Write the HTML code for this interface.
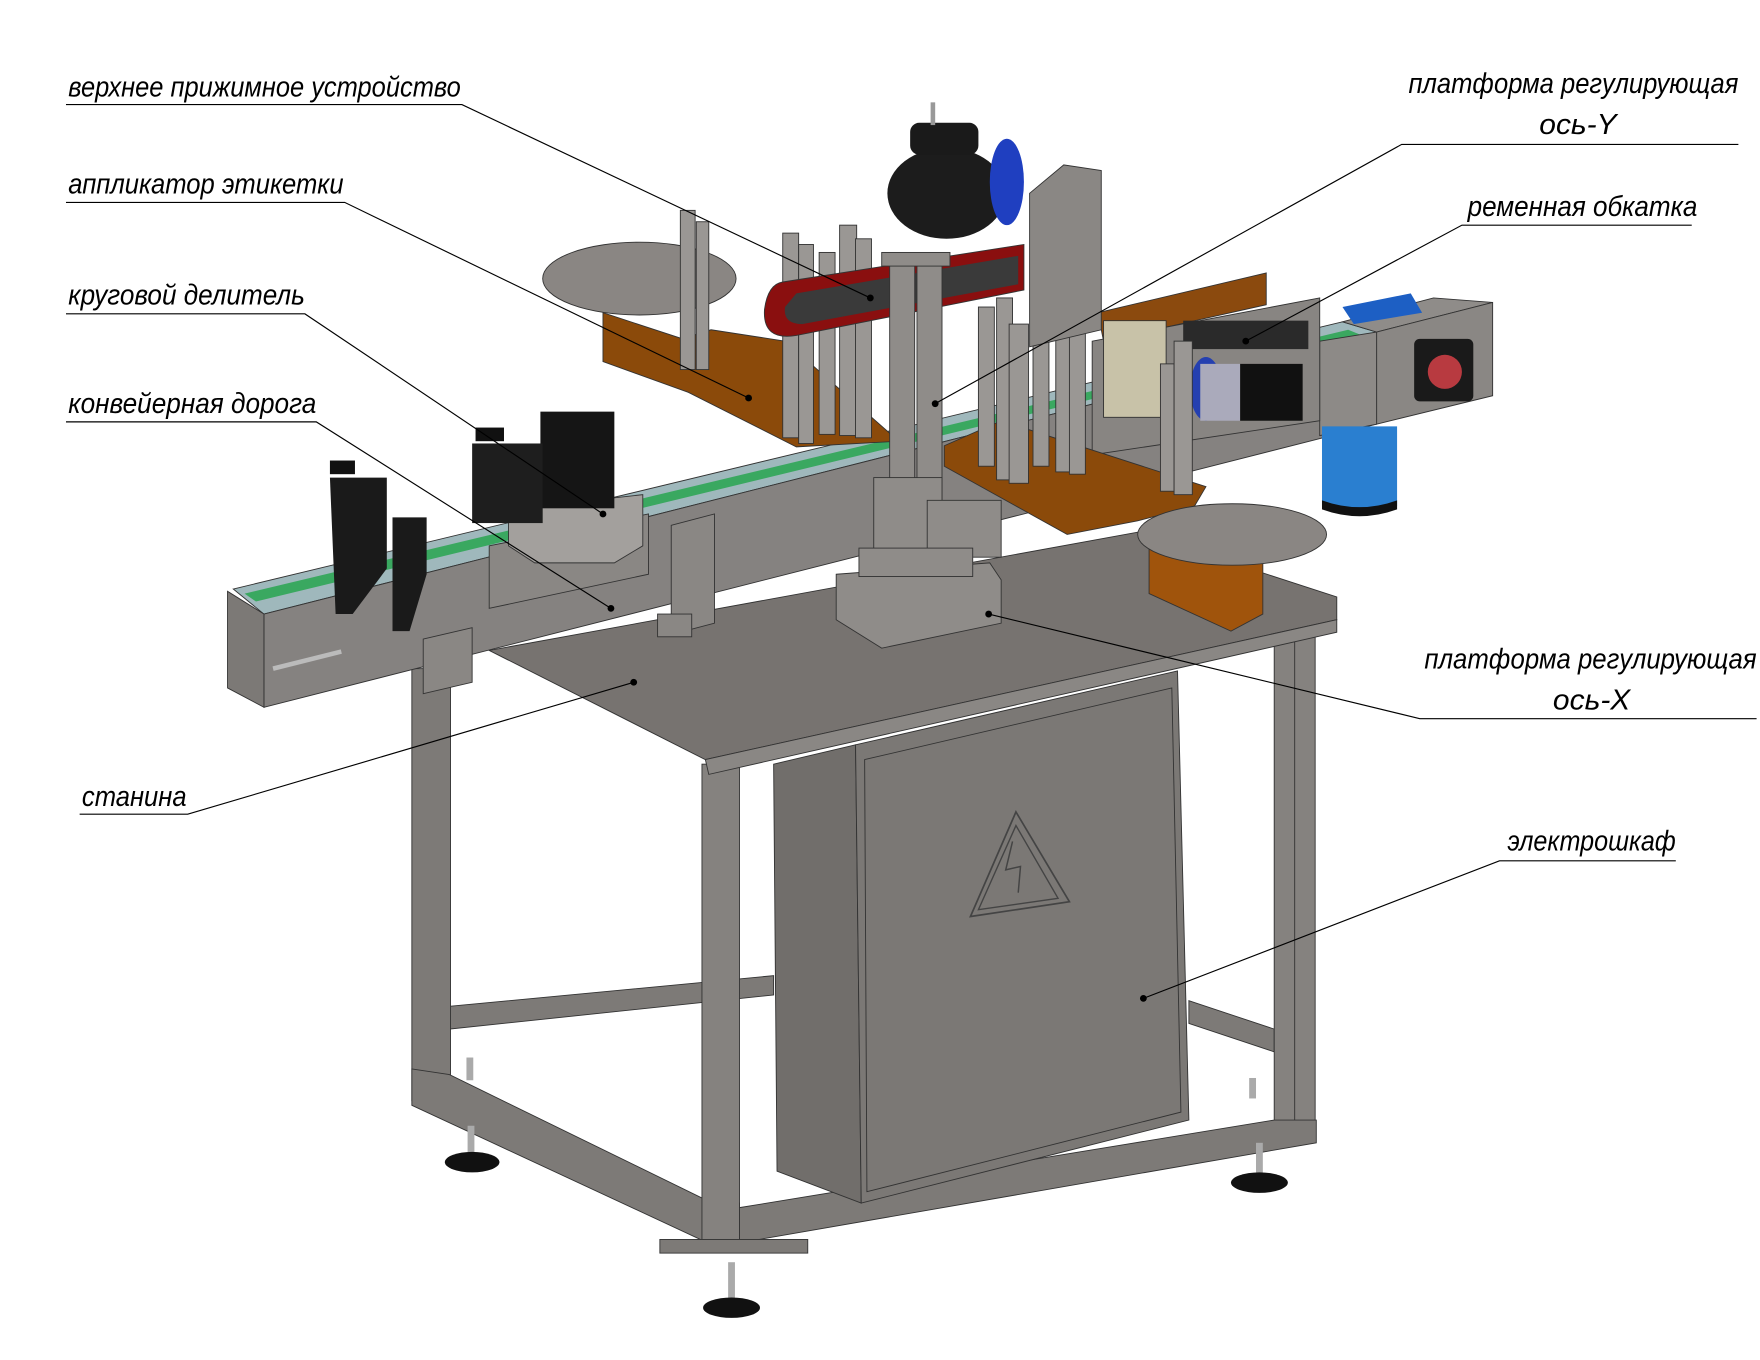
<!DOCTYPE html>
<html><head><meta charset="utf-8"><style>
html,body{margin:0;padding:0;background:#fff;width:1760px;height:1360px;overflow:hidden}
svg{display:block}
.t{font-family:"Liberation Sans","DejaVu Sans",sans-serif;font-style:italic;font-size:25px;fill:#000}
.s{stroke:#333;stroke-width:.8}
</style></head><body>
<svg width="1760" height="1360" viewBox="0 0 1547 1196" preserveAspectRatio="none" xmlns="http://www.w3.org/2000/svg">
<rect width="1547" height="1196" fill="#fff"/>
<!-- lower frame -->
<g class="s" fill="#7d7a77">
<polygon points="395,885 680,858 680,875 395,905"/>
<polygon points="1045,880 1120,905 1120,925 1045,900"/>
<rect x="362" y="588" width="34" height="380"/>
<polygon points="362,940 395,945 620,1055 650,1058 650,1092 620,1092 362,972"/>
<rect x="617" y="672" width="33" height="420" fill="#85827f"/>
<rect x="1120" y="552" width="36" height="450" fill="#85827f"/>
<line x1="1138" y1="552" x2="1138" y2="1000"/>
<polygon points="650,1062 1120,985 1157,985 1157,1005 650,1093"/>
<rect x="580" y="1090" width="130" height="12"/>
</g>
<!-- feet -->
<g fill="#111">
<rect x="411" y="990" width="6" height="25" fill="#aaa"/><ellipse cx="415" cy="1022" rx="24" ry="9"/>
<rect x="640" y="1110" width="6" height="32" fill="#aaa"/><ellipse cx="643" cy="1150" rx="25" ry="9"/>
<rect x="1104" y="1005" width="6" height="28" fill="#aaa"/><ellipse cx="1107" cy="1040" rx="25" ry="9"/>
<rect x="410" y="930" width="6" height="20" fill="#aaa"/><rect x="1098" y="948" width="6" height="18" fill="#aaa"/>
</g>
<!-- cabinet -->
<polygon class="s" points="680,672 752,655 757,1058 683,1030" fill="#716e6b"/>
<polygon class="s" points="752,655 1035,590 1045,985 757,1058" fill="#7b7875"/>
<polygon class="s" fill="none" points="760,668 1030,605 1038,978 762,1048"/>
<polygon fill="none" stroke="#444" stroke-width="1.5" points="853,806 893,714 940,793"/>
<polygon fill="none" stroke="#444" stroke-width="1.2" points="860,800 893,726 930,790"/>
<polyline fill="none" stroke="#444" stroke-width="1.3" points="890,740 884,765 897,762 895,785"/>
<!-- table top -->
<polygon class="s" points="430,572 1000,468 1175,525 1175,545 620,668" fill="#777370"/>
<polygon class="s" points="620,668 1175,545 1175,556 623,681" fill="#8a8784"/>
<!-- conveyor beam -->
<polygon class="s" points="205,518 1180,283 1210,292 232,540" fill="#9fb8bc"/>
<polygon points="215,522 1185,290 1195,294 225,529" fill="#3aa860"/>
<polygon class="s" points="232,540 1210,292 1210,373 232,622" fill="#858280"/>
<polygon class="s" points="200,520 232,540 232,622 200,605" fill="#7c7976"/>
<polygon class="s" points="372,562 415,552 415,600 372,610" fill="#8a8784"/>
<polygon class="s" points="590,462 628,452 628,548 590,558" fill="#8a8784"/>
<polygon class="s" points="430,480 570,452 570,505 430,535" fill="#8a8784"/>
<rect x="578" y="540" width="30" height="20" fill="#8a8784" class="s"/>
<line x1="240" y1="588" x2="300" y2="573" stroke="#bbb" stroke-width="4"/>
<!-- right end box -->
<polygon class="s" points="1180,283 1260,262 1312,266 1210,292" fill="#8f8c89"/>
<polygon class="s" points="1210,292 1312,266 1312,348 1210,373" fill="#8a8784"/>
<rect x="1243" y="298" width="52" height="55" rx="5" fill="#1a1a1a"/>
<circle cx="1270" cy="327" r="15" fill="#b83a40"/>
<polygon class="s" points="1160,300 1210,292 1210,373 1160,383" fill="#8d8a87"/>
<path d="M1162,375 h66 v70 q-33,12 -66,0z" fill="#2a7fd0"/>
<path d="M1162,440 q33,12 66,0 v8 q-33,12 -66,0z" fill="#111"/>
<polygon points="1180,270 1240,258 1250,275 1190,285" fill="#1d5fc4"/>
<!-- right belt module -->
<polygon class="s" points="965,275 1113,240 1113,268 970,300" fill="#8b4a0e"/>
<polygon class="s" points="960,300 1160,262 1160,370 960,400" fill="#888582"/>
<rect x="970" y="282" width="55" height="85" fill="#c8c2a8" class="s"/>
<rect x="1040" y="282" width="110" height="25" fill="#2a2a2a"/>
<rect x="1090" y="320" width="55" height="50" fill="#111"/>
<ellipse cx="1060" cy="342" rx="14" ry="28" fill="#2540b0"/>
<rect x="1055" y="320" width="35" height="50" fill="#aab" />
<!-- left disc & orange -->
<polygon class="s" points="530,275 600,298 625,290 690,300 790,388 700,393 605,345 530,318" fill="#8b4a0a"/>
<ellipse class="s" cx="562" cy="245" rx="85" ry="32" fill="#8a8683"/>
<!-- right orange plate -->
<polygon class="s" points="830,392 880,370 1060,428 1050,445 1000,458 938,470 830,410" fill="#8b4a0a"/>
<polygon class="s" points="1010,478 1110,490 1110,540 1082,555 1010,522" fill="#a0540c"/>
<ellipse class="s" cx="1083" cy="470" rx="83" ry="27" fill="#8a8683"/>
<!-- rods -->
<g class="s" fill="#9a9794">
<rect x="598" y="185" width="13" height="140"/><rect x="612" y="195" width="11" height="130"/>
<rect x="688" y="205" width="14" height="180"/><rect x="702" y="215" width="13" height="175"/>
<rect x="720" y="222" width="14" height="160"/><rect x="738" y="198" width="15" height="185"/>
<rect x="752" y="210" width="14" height="175"/>
<rect x="860" y="270" width="14" height="140"/><rect x="876" y="262" width="14" height="160"/>
<rect x="887" y="285" width="17" height="140"/><rect x="908" y="255" width="14" height="155"/>
<rect x="928" y="245" width="16" height="170"/><rect x="940" y="262" width="14" height="155"/>
<rect x="1020" y="320" width="12" height="112"/><rect x="1032" y="300" width="16" height="135"/>
</g>
<!-- applicator column + motor -->
<polygon class="s" points="905,170 935,145 968,150 968,290 905,305" fill="#8a8784"/>
<path d="M688,248 L900,215 L900,255 L700,295 Q670,300 672,272 Q675,250 688,248z" fill="#8a0f0f" class="s"/>
<path d="M700,258 L895,225 L895,250 L705,285 Q688,285 690,270z" fill="#3a3a3a"/>
<ellipse cx="832" cy="170" rx="52" ry="40" fill="#1c1c1c"/>
<ellipse cx="885" cy="160" rx="15" ry="38" fill="#1f3fc0"/>
<rect x="800" y="108" width="60" height="28" rx="8" fill="#1a1a1a"/>
<rect x="818" y="90" width="4" height="20" fill="#999"/>
<!-- center column & blocks -->
<g class="s" fill="#8f8c89">
<rect x="782" y="228" width="22" height="265"/><rect x="806" y="228" width="22" height="265"/>
<rect x="775" y="222" width="60" height="12"/>
<rect x="768" y="420" width="60" height="70"/>
<rect x="815" y="440" width="65" height="50"/>
<polygon points="735,505 870,495 880,510 880,548 775,570 735,545"/>
<rect x="755" y="482" width="100" height="25"/>
</g>
<!-- divider -->
<polygon class="s" points="447,448 565,435 565,480 540,495 470,495 447,480" fill="#a3a09d"/>
<rect x="475" y="362" width="65" height="85" fill="#151515"/>
<rect x="415" y="390" width="62" height="70" fill="#1e1e1e"/>
<rect x="418" y="376" width="25" height="12" fill="#111"/>
<!-- clamp -->
<path d="M290,420 h50 v80 l-30,40 h-15z" fill="#1a1a1a"/>
<path d="M345,455 h30 v50 l-15,50 h-15z" fill="#1a1a1a"/>
<rect x="290" y="405" width="22" height="12" fill="#111"/>
<!-- leaders -->
<g stroke="#000" stroke-width="1" fill="none">
<polyline points="58,92 406,92 765,262"/>
<polyline points="58,178 303,178 658,350"/>
<polyline points="58,276 268,276 530,452"/>
<polyline points="58,371 278,371 537,535"/>
<polyline points="70,716 165,716 557,600"/>
<polyline points="1528,127 1232,127 822,355"/>
<polyline points="1487,198 1285,198 1095,300"/>
<polyline points="1544,632 1248,632 869,540"/>
<polyline points="1473,757 1318,757 1005,878"/>
</g>
<g fill="#000">
<circle cx="765" cy="262" r="3"/><circle cx="658" cy="350" r="3"/><circle cx="530" cy="452" r="3"/>
<circle cx="537" cy="535" r="3"/><circle cx="557" cy="600" r="3"/><circle cx="822" cy="355" r="3"/>
<circle cx="1095" cy="300" r="3"/><circle cx="869" cy="540" r="3"/><circle cx="1005" cy="878" r="3"/>
</g>
<g class="t">
<text x="60" y="85" textLength="345" lengthAdjust="spacingAndGlyphs">верхнее прижимное устройство</text>
<text x="60" y="170" textLength="242" lengthAdjust="spacingAndGlyphs">аппликатор этикетки</text>
<text x="60" y="268" textLength="208" lengthAdjust="spacingAndGlyphs">круговой делитель</text>
<text x="60" y="363" textLength="218" lengthAdjust="spacingAndGlyphs">конвейерная дорога</text>
<text x="72" y="709" textLength="92" lengthAdjust="spacingAndGlyphs">станина</text>
<text x="1238" y="82" textLength="290" lengthAdjust="spacingAndGlyphs">платформа регулирующая</text>
<text x="1353" y="118" textLength="68" lengthAdjust="spacingAndGlyphs">ось-Y</text>
<text x="1290" y="190" textLength="202" lengthAdjust="spacingAndGlyphs">ременная обкатка</text>
<text x="1252" y="588" textLength="292" lengthAdjust="spacingAndGlyphs">платформа регулирующая</text>
<text x="1365" y="624" textLength="68" lengthAdjust="spacingAndGlyphs">ось-X</text>
<text x="1325" y="748" textLength="148" lengthAdjust="spacingAndGlyphs">электрошкаф</text>
</g>
</svg>
</body></html>
